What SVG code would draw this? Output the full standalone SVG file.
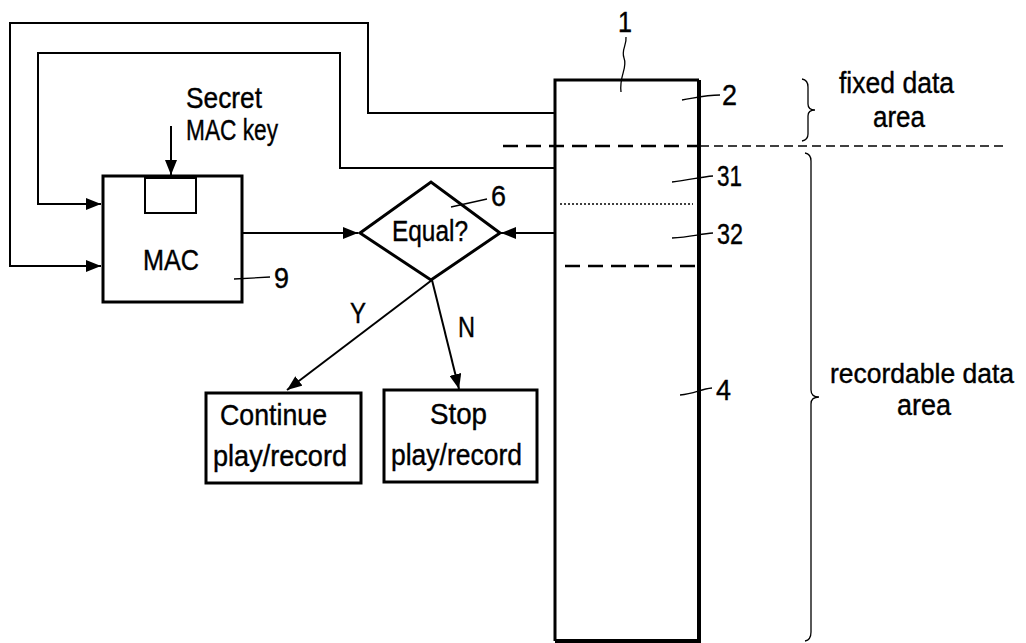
<svg xmlns="http://www.w3.org/2000/svg" width="1026" height="643" viewBox="0 0 1026 643">
<style>
.ln{fill:none;stroke:#000;stroke-width:2}
.bx{fill:none;stroke:#000;stroke-width:3}
.thin{fill:none;stroke:#000;stroke-width:1.3}
text{font-family:"Liberation Sans",Arial,sans-serif;font-size:30px;fill:#000;stroke:#000;stroke-width:0.4}
.m{text-anchor:middle}
</style>
<defs>
<marker id="ah" markerUnits="userSpaceOnUse" markerWidth="16" markerHeight="12" refX="15" refY="6" orient="auto">
<path d="M0,0 L15,6 L0,12 z" fill="#000"/>
</marker>
</defs>
<rect width="1026" height="643" fill="#fff"/>

<g id="connectors">
<path class="ln" d="M555,113 H368 V23 H10 V266 H101" marker-end="url(#ah)"/>
<path class="ln" d="M555,168 H340 V53 H38 V204 H101" marker-end="url(#ah)"/>
<path class="ln" d="M171,126 V175" marker-end="url(#ah)"/>
<path class="ln" d="M242,233 H358" marker-end="url(#ah)"/>
<path class="ln" d="M555,233 H501" marker-end="url(#ah)"/>
<path class="ln" d="M432,280 L287,390" marker-end="url(#ah)"/>
<path class="ln" d="M432,280 L459,389" marker-end="url(#ah)"/>
<text x="350" y="323" textLength="16" lengthAdjust="spacingAndGlyphs">Y</text>
<text x="458" y="337" textLength="17" lengthAdjust="spacingAndGlyphs">N</text>
</g>

<g id="mac">
<rect class="bx" x="103" y="176" width="139" height="126"/>
<rect class="ln" x="145" y="178" width="51" height="35"/>
<text x="186" y="108" textLength="76" lengthAdjust="spacingAndGlyphs">Secret</text>
<text x="186" y="140" textLength="92" lengthAdjust="spacingAndGlyphs">MAC key</text>
<text x="143" y="270" textLength="56" lengthAdjust="spacingAndGlyphs">MAC</text>
<path class="thin" d="M234,279 L270,277"/>
<text x="274" y="288" textLength="15" lengthAdjust="spacingAndGlyphs">9</text>
</g>

<g id="equal">
<path class="bx" d="M360,233 L431,182 L500,233 L431,280 z"/>
<text x="392" y="241" textLength="76" lengthAdjust="spacingAndGlyphs">Equal?</text>
<path class="thin" d="M451,207 L487,199"/>
<text x="491" y="206" textLength="15" lengthAdjust="spacingAndGlyphs">6</text>
</g>

<g id="continue">
<rect class="bx" x="206" y="393" width="155" height="90"/>
<text x="220" y="425" textLength="107" lengthAdjust="spacingAndGlyphs">Continue</text>
<text x="213" y="466" textLength="134" lengthAdjust="spacingAndGlyphs">play/record</text>
</g>

<g id="stop">
<rect class="bx" x="384" y="390" width="153" height="92"/>
<text x="430" y="424" textLength="57" lengthAdjust="spacingAndGlyphs">Stop</text>
<text x="391" y="465" textLength="131" lengthAdjust="spacingAndGlyphs">play/record</text>
</g>

<g id="medium">
<path class="bx" d="M555,641 V80 H699"/>
<path d="M699,80 V641 H555" fill="none" stroke="#000" stroke-width="4"/>
<path d="M503,146 H700" fill="none" stroke="#000" stroke-width="2.5" stroke-dasharray="15,8"/>
<path d="M700,146 H1004" fill="none" stroke="#000" stroke-width="1.6" stroke-dasharray="9,5"/>
<path d="M560,204 H693" fill="none" stroke="#000" stroke-width="1.5" stroke-dasharray="2,2"/>
<path d="M565,266 H695" fill="none" stroke="#000" stroke-width="2.5" stroke-dasharray="15,8"/>
<path class="thin" d="M621,92 C619,75 628,68 624,58 C621,50 627,45 626,37"/>
<text x="618" y="32" textLength="14" lengthAdjust="spacingAndGlyphs">1</text>
<path class="thin" d="M682,100 C695,98 705,95 720,95"/>
<text x="722" y="105" textLength="15" lengthAdjust="spacingAndGlyphs">2</text>
<path class="thin" d="M672,182 C690,180 700,177 713,176"/>
<text x="717" y="186" textLength="25" lengthAdjust="spacingAndGlyphs">31</text>
<path class="thin" d="M672,238 C690,237 700,234 713,233"/>
<text x="717" y="244" textLength="26" lengthAdjust="spacingAndGlyphs">32</text>
<path class="thin" d="M680,395 C695,394 700,389 712,388"/>
<text x="716" y="400" textLength="15" lengthAdjust="spacingAndGlyphs">4</text>
</g>

<g id="fixed-area">
<path class="thin" d="M802,79 Q808,80 808,87 L808,104 Q808,110 815,110 Q808,110 808,116 L808,134 Q808,140 802,141"/>
<text x="839" y="93" textLength="115" lengthAdjust="spacingAndGlyphs">fixed data</text>
<text x="899" y="127" class="m" textLength="52" lengthAdjust="spacingAndGlyphs">area</text>
</g>

<g id="recordable-area">
<path class="thin" d="M805,153 Q811,154 811,161 L811,390 Q811,397 819,397 Q811,397 811,404 L811,632 Q811,640 805,641"/>
<text x="830" y="383" style="font-size:27px" textLength="184" lengthAdjust="spacingAndGlyphs">recordable data</text>
<text x="924" y="415" class="m" textLength="54" lengthAdjust="spacingAndGlyphs">area</text>
</g>
</svg>
